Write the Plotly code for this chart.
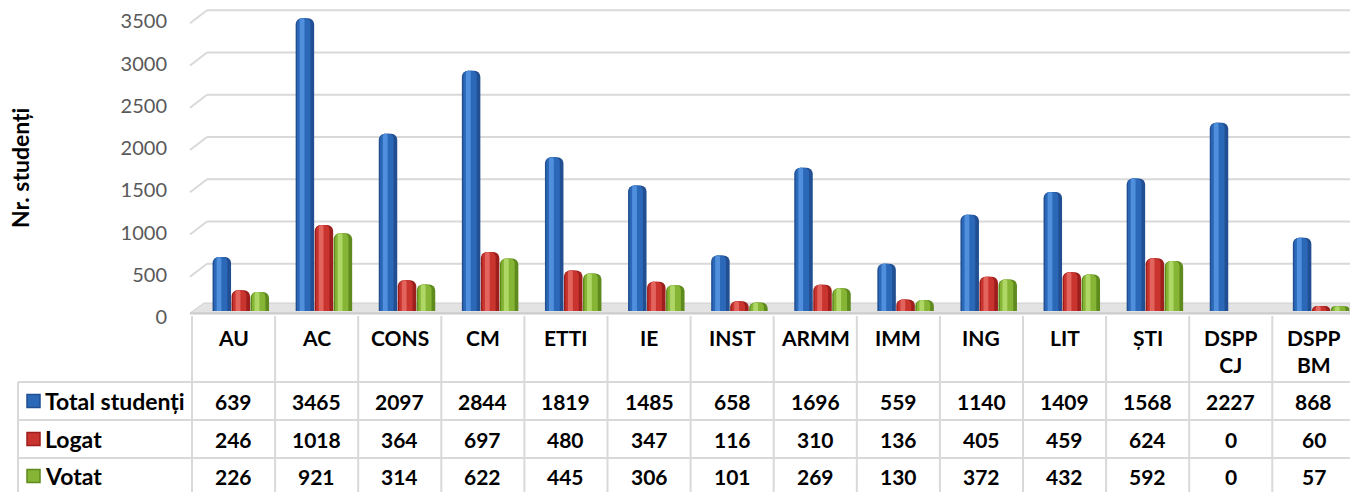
import plotly.graph_objects as go

# ---------------- data ----------------
categories = ["AU", "AC", "CONS", "CM", "ETTI", "IE", "INST", "ARMM", "IMM",
              "ING", "LIT", "ȘTI", "DSPP CJ", "DSPP BM"]
category_labels = ["AU", "AC", "CONS", "CM", "ETTI", "IE", "INST", "ARMM", "IMM",
                   "ING", "LIT", "ȘTI", "DSPP<br>CJ", "DSPP<br>BM"]
total_studenti = [639, 3465, 2097, 2844, 1819, 1485, 658, 1696, 559, 1140, 1409, 1568, 2227, 868]
logat = [246, 1018, 364, 697, 480, 347, 116, 310, 136, 405, 459, 624, 0, 60]
votat = [226, 921, 314, 622, 445, 306, 101, 269, 130, 372, 432, 592, 0, 57]
series_names = ["Total studenți", "Logat", "Votat"]
y_ticks = [0, 500, 1000, 1500, 2000, 2500, 3000, 3500]
y_title = "Nr. studenți"

# ---------------- geometry / style ----------------
W, H = 1350, 492
ML, MR, MT, MB = 192, 0, 0, 174
PW, PH = W - ML - MR, H - MT - MB
COLW = 83.1                      # px per category
SCALE = 0.0845                   # px per student
BASE_PX = 311                    # pixel row of value 0

def px(x):
    return (x - ML) / PW

def py(y):
    return (MT + PH - y) / PH

FONT = "Lato"
TSIZE = 21
series_values = [total_studenti, logat, votat]
palettes = [
    ("#214f92", "#2c68b8", "#4f8fdc"),
    ("#9c1f1d", "#c9342f", "#e3645d"),
    ("#5e8a1e", "#86b535", "#aed766"),
]
bar_w = 18.5 / COLW
offsets = [-21.0 / COLW, -2.0 / COLW, 17.0 / COLW]

fig = go.Figure()
for vals, name, pal, off in zip(series_values, series_names, palettes, offsets):
    dark, mid, light = pal
    layers = [
        (dark, 0.0, 1.0, 6),
        (mid, 0.08, 0.72, 5),
        (light, 0.22, 0.26, 4),
    ]
    for i, (col, start, frac, rad) in enumerate(layers):
        fig.add_trace(go.Bar(
            x=categories, y=vals, name=name,
            width=bar_w * frac, offset=off + bar_w * start,
            marker=dict(color=col, line=dict(width=0), cornerradius=rad),
            showlegend=False, hoverinfo="x+y+name" if i == 0 else "skip",
        ))

shapes = []
grid_col = "#d9d9d9"
# back-wall gridlines with 3-D stubs
for v in y_ticks[1:]:
    shapes.append(dict(type="line", xref="paper", yref="y", ysizemode="pixel", yanchor=v,
                       x0=px(207), x1=1.0, y0=5, y1=5,
                       line=dict(color=grid_col, width=2), layer="below"))
    shapes.append(dict(type="line", xref="paper", yref="y", ysizemode="pixel", yanchor=v,
                       x0=px(190), x1=px(207), y0=-8, y1=5,
                       line=dict(color=grid_col, width=2), layer="below"))
# floor
shapes.append(dict(type="path", xref="paper", yref="paper",
                   path=f"M {px(190)} {py(313)} L {px(204)} {py(303)} L 1 {py(303)} L 1 {py(313)} Z",
                   fillcolor="#e3e3e3", line=dict(color="#cfcfcf", width=1), layer="below"))
shapes.append(dict(type="line", xref="paper", yref="paper", x0=px(190), x1=1, y0=py(313.5), y1=py(313.5),
                   line=dict(color="#cccccc", width=2), layer="below"))

# data table grid
tcol = "#d9d9d9"
ROW_Y = [382, 420, 458, 494]
for k in range(len(categories) + 1):
    xk = 192 + k * COLW
    if xk <= W + 1:
        shapes.append(dict(type="line", xref="paper", yref="paper", x0=px(xk), x1=px(xk),
                           y0=py(316), y1=py(495), line=dict(color=tcol, width=2)))
shapes.append(dict(type="line", xref="paper", yref="paper", x0=px(18), x1=px(18),
                   y0=py(ROW_Y[0]), y1=py(495), line=dict(color=tcol, width=2)))
for yy in ROW_Y[:3]:
    shapes.append(dict(type="line", xref="paper", yref="paper", x0=px(18), x1=1,
                       y0=py(yy), y1=py(yy), line=dict(color=tcol, width=2)))

annotations = []
for i, lab in enumerate(category_labels):
    annotations.append(dict(x=i, xref="x", y=py(323), yref="paper", text=f"<b>{lab}</b>",
                            showarrow=False, yanchor="top", xanchor="center",
                            font=dict(family=FONT, size=TSIZE, color="#000000")))
row_centers = [401, 439, 476]
for r, (vals, name, pal) in enumerate(zip(series_values, series_names, palettes)):
    yc = row_centers[r]
    for i, v in enumerate(vals):
        annotations.append(dict(x=i, xref="x", y=py(yc), yref="paper", text=f"<b>{v}</b>",
                                showarrow=False, yanchor="middle", xanchor="center",
                                font=dict(family=FONT, size=TSIZE, color="#000000")))
    annotations.append(dict(x=px(43), xref="paper", y=py(yc), yref="paper", text=f"<b>{name}</b>",
                            showarrow=False, yanchor="middle", xanchor="left",
                            font=dict(family=FONT, size=23, color="#000000")))
    shapes.append(dict(type="rect", xref="paper", yref="paper",
                       x0=px(27), x1=px(40), y0=py(yc - 6.5), y1=py(yc + 6.5),
                       fillcolor=pal[1], line=dict(color=pal[0], width=1.5)))
annotations.append(dict(x=px(20), xref="paper", y=py(168), yref="paper", text=f"<b>{y_title}</b>",
                        textangle=-90, showarrow=False, xanchor="center", yanchor="middle",
                        font=dict(family=FONT, size=23, color="#000000")))

fig.update_layout(
    width=W, height=H,
    margin=dict(l=ML, r=MR, t=MT, b=MB, autoexpand=False),
    paper_bgcolor="white", plot_bgcolor="rgba(0,0,0,0)",
    barmode="overlay", showlegend=False,
    shapes=shapes, annotations=annotations,
    xaxis=dict(type="category", range=[-0.5, -0.5 + PW / COLW], showticklabels=False,
               showgrid=False, zeroline=False, showline=False, ticks="", fixedrange=True),
    yaxis=dict(range=[-(PH - BASE_PX) / SCALE, BASE_PX / SCALE], tickvals=y_ticks,
               showgrid=False, zeroline=False, showline=False, ticks="",
               ticklabelshift=6, ticklabelstandoff=24, ticklabeloverflow="allow",
               tickfont=dict(family=FONT, size=20, color="#595959"), fixedrange=True),
)

fig.write_html("out.html", config={"displayModeBar": False},
               post_script="document.body.style.margin='0px';document.body.style.overflow='hidden';")
